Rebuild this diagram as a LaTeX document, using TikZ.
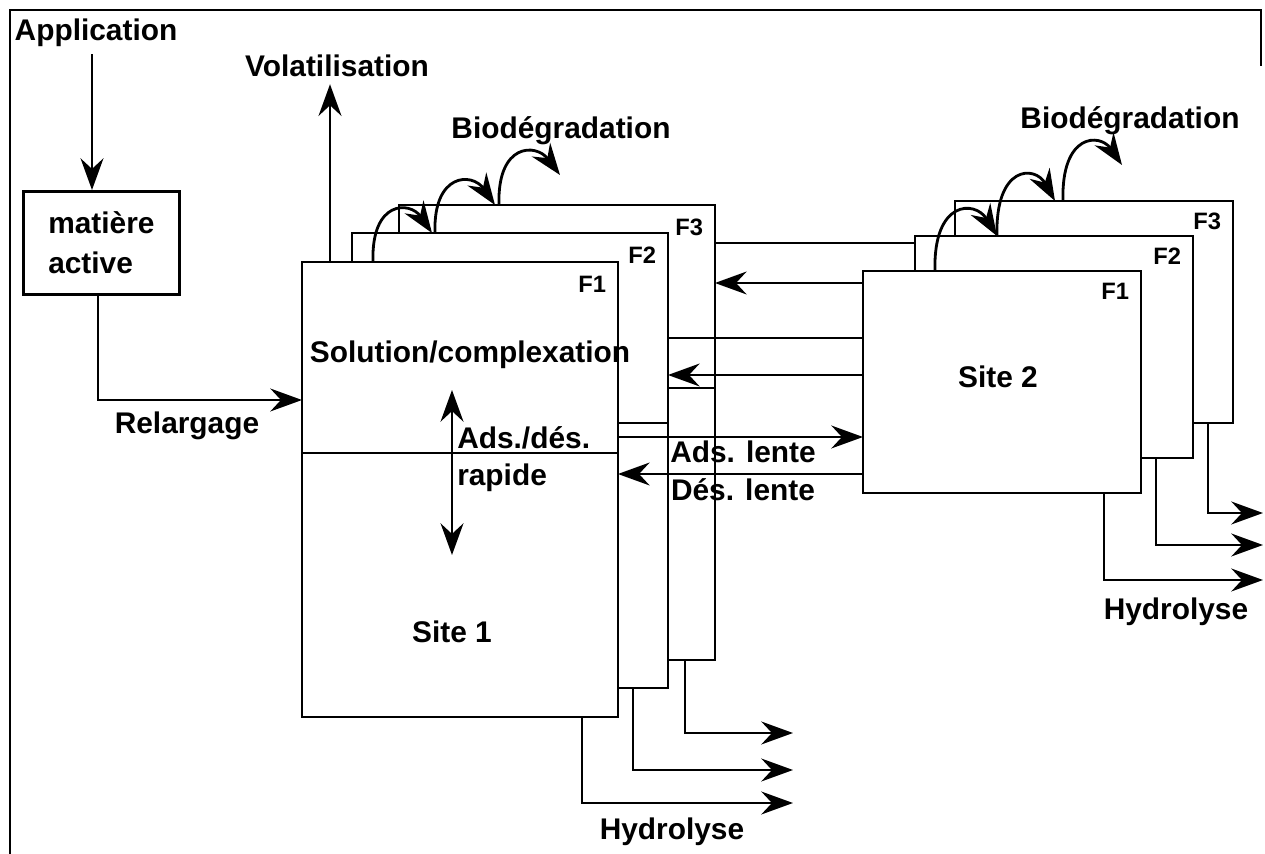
\documentclass[tikz,border=0pt]{standalone}
\usepackage{fontspec}
\setmainfont{Liberation Sans}
\usetikzlibrary{arrows.meta,calc,positioning}

\tikzset{
  fracbox/.style={draw,fill=white,anchor=north west,inner sep=0pt,outer sep=0pt},
  siteone/.style={fracbox,minimum width=6.32cm,minimum height=9.1cm},
  sitetwo/.style={fracbox,minimum width=5.56cm,minimum height=4.44cm},
  flabel/.style={font=\fontsize{13.5}{15}\selectfont\bfseries,inner sep=0pt},
}

\begin{document}
\begin{tikzpicture}[x=0.02cm,y=-0.02cm,line width=1.6pt,
    >={Stealth[length=18pt,width=13pt,inset=6pt]},
    every node/.style={font=\fontsize{17}{22.7}\selectfont\bfseries}]
   \useasboundingbox (0,0) rectangle (1265,854);
   \draw (10,854) -- (10,10) -- (1261,10) -- (1261,66);

   \node[siteone] (s1f3) at (399,205) {};
   \node[siteone] (s1f2) at (352,233) {};
   \node[siteone] (s1f1) at (302,262) {};
   \node[flabel,below left=7pt and 6pt of s1f3.north east] (l13) {F3};
   \node[flabel,below left=7pt and 6pt of s1f2.north east] (l12) {F2};
   \node[flabel,below left=7pt and 6pt of s1f1.north east] (l11) {F1};

   \node[sitetwo] (s2f3) at (955,201) {};
   \node[sitetwo] (s2f2) at (915,236) {};
   \node[sitetwo] (s2f1) at (863,271) {};
   \node[flabel,below left=6pt and 6pt of s2f3.north east] (l23) {F3};
   \node[flabel,below left=6pt and 6pt of s2f2.north east] (l22) {F2};
   \node[flabel,below left=6pt and 6pt of s2f1.north east] (l21) {F1};

   \node (app) at (96,33) {Application};
   \node[draw,anchor=north west,inner sep=0pt,minimum width=3.12cm,minimum height=2.06cm,align=left] (mat) at (22,190) {matière\\active};
   \draw[->] (92,0 |- app.south) -- (92,0 |- mat.north);
   \draw[->] (98,0 |- mat.south) |- (s1f1.west |- 0,400);
   \node (rel) at (187,426) {Relargage};

   \node (vol) at (337,66) {Volatilisation};
   \draw[->] (330,0 |- s1f1.north) -- (330,0 |- vol.south);

   \coordinate (bio1) at (560,175);
   \draw[->] (373,0 |- s1f1.north) .. controls +(-2,-62) and +(-22,-32) .. (432,0 |- s1f2.north);
   \draw[->] (435,0 |- s1f2.north) .. controls +(-2,-60) and +(-23,-33) .. (495,0 |- s1f3.north);
   \draw[->] (499,0 |- s1f3.north) .. controls +(-2,-62) and +(-24,-32) .. (bio1);
   \node (bio1t) at (561,131) {Biodégradation};

   \coordinate (bio2) at (1122,165);
   \draw[->] (935,0 |- s2f1.north) .. controls +(-2,-71) and +(-22,-36) .. (997,0 |- s2f2.north);
   \draw[->] (997,0 |- s2f2.north) .. controls +(-2,-71) and +(-20,-36) .. (1055,0 |- s2f3.north);
   \draw[->] (1063,0 |- s2f3.north) .. controls +(-2,-68) and +(-22,-32) .. (bio2);
   \node (bio2t) at (1130,121) {Biodégradation};

   \node (sol) at (470,355) {Solution/complexation};
   \draw (s1f1.west |- 0,453) -- (s1f1.east |- 0,453);
   \coordinate (rtop) at (452,390);
   \coordinate (rbot) at (452,555);
   \draw[<->] (rtop) -- (rbot);
   \node[anchor=west] (ads) at (450,438) {Ads./dés.};
   \node[anchor=west] (rap) at (450,478) {rapide};
   \node (site1) at (452,632) {Site 1};
   \node (site2) at (998,377) {Site 2};

   \draw (s1f3.east |- 0,243) -- (s2f2.west |- 0,243);
   \draw[->] (s2f1.west |- 0,283) -- (s1f3.east |- 0,283);
   \draw (s1f2.east |- 0,338) -- (s2f1.west |- 0,338);
   \draw[->] (s2f1.west |- 0,375) -- (s1f2.east |- 0,375);
   \draw (s1f2.east |- 0,388) -- (s1f3.east |- 0,388);
   \draw (s1f1.east |- 0,423) -- (s1f2.east |- 0,423);
   \draw[->] (s1f1.east |- 0,437) -- (s2f1.west |- 0,437);
   \draw[->] (s2f1.west |- 0,474) -- (s1f1.east |- 0,474);
   \node (adsl) at (743,452) {Ads. lente};
   \node (desl) at (743,490) {Dés. lente};

   \coordinate (h1a) at (793,803);
   \coordinate (h1b) at (793,770);
   \coordinate (h1c) at (793,733);
   \draw[->] (582,0 |- s1f1.south) |- (h1a);
   \draw[->] (633,0 |- s1f2.south) |- (h1b);
   \draw[->] (685,0 |- s1f3.south) |- (h1c);
   \node (hyd1) at (672,832) {Hydrolyse};

   \coordinate (h2a) at (1263,580);
   \coordinate (h2b) at (1263,545);
   \coordinate (h2c) at (1263,513);
   \draw[->] (1104,0 |- s2f1.south) |- (h2a);
   \draw[->] (1156,0 |- s2f2.south) |- (h2b);
   \draw[->] (1208,0 |- s2f3.south) |- (h2c);
   \node (hyd2) at (1176,612) {Hydrolyse};
\end{tikzpicture}
\end{document}
